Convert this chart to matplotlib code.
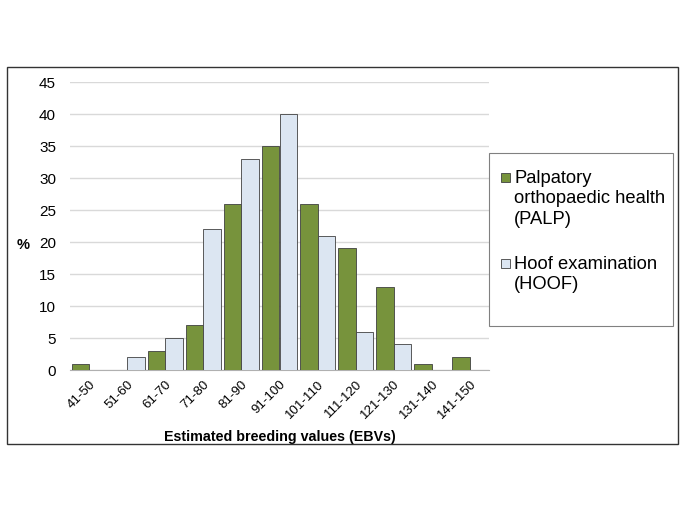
import matplotlib
matplotlib.use("Agg")
import matplotlib.pyplot as plt
import numpy as np
from matplotlib.patches import Rectangle

plt.rcParams['font.family'] = ['Liberation Sans', 'DejaVu Sans']

categories = ["41-50", "51-60", "61-70", "71-80", "81-90", "91-100",
              "101-110", "111-120", "121-130", "131-140", "141-150"]
palp = [1, 0, 3, 7, 26, 35, 26, 19, 13, 1, 2]
hoof = [0, 2, 5, 22, 33, 40, 21, 6, 4, 0, 0]
series_labels = ['Palpatory\northopaedic health\n(PALP)', 'Hoof examination\n(HOOF)']
series_colors = ['#77933C', '#DCE6F2']

W, H = 685, 513
fig = plt.figure(figsize=(W / 100, H / 100), dpi=100)

def fx(px):
    return px / W

def fy(py):
    return 1 - py / H

# outer frame
fig.patches.append(Rectangle((fx(7), fy(444)), (678 - 7) / W, (444 - 67) / H,
                             transform=fig.transFigure, fill=False,
                             edgecolor='#333333', linewidth=1.0))

ax = fig.add_axes([fx(70), fy(370), (489 - 70) / W, (370 - 82) / H])
x = np.arange(len(categories))
bw = 0.46
ax.bar(x - bw / 2, palp, width=bw, color=series_colors[0], edgecolor='#404040',
       linewidth=0.6, zorder=3)
ax.bar(x + bw / 2, hoof, width=bw, color=series_colors[1], edgecolor='#404040',
       linewidth=0.6, zorder=3)

ax.set_xlim(-0.5, len(categories) - 0.5)
ax.set_ylim(0, 45)
ax.set_yticks(range(0, 46, 5))
ax.yaxis.grid(True, color='#d9d9d9', linewidth=1.0, zorder=0)
ax.set_axisbelow(True)
for s in ['left', 'right', 'top']:
    ax.spines[s].set_visible(False)
ax.spines['bottom'].set_color('#b0b0b0')
ax.tick_params(axis='both', length=0, colors='#000000')
ax.tick_params(axis='y', pad=10, labelsize=11)
ax.set_xticks(x)
ax.set_xticklabels(categories, rotation=45, ha='right', rotation_mode='anchor')
ax.tick_params(axis='x', pad=6, labelsize=9.5)
ax.set_ylabel('%', rotation=0, fontsize=10.5, fontweight='bold', va='center', ha='center')
ax.yaxis.set_label_coords(-0.112, 0.434)
ax.set_xlabel('Estimated breeding values (EBVs)', fontsize=10.3, fontweight='bold', va='center')
ax.xaxis.set_label_coords(0.5, (370 - 437.5) / (370 - 82))

# legend (drawn manually so that the markers align with the first text line)
fig.patches.append(Rectangle((fx(489), fy(326)), (673 - 489) / W, (326 - 153) / H,
                             transform=fig.transFigure, facecolor='white',
                             edgecolor='#808080', linewidth=0.8))
first_line_y = [177, 263]
for lab, col, yy in zip(series_labels, series_colors, first_line_y):
    fig.patches.append(Rectangle((fx(501), fy(yy + 4.5)), 9 / W, 9 / H,
                                 transform=fig.transFigure, facecolor=col,
                                 edgecolor='#404040', linewidth=0.6))
    fig.text(fx(514), fy(yy - 7), lab, fontsize=13.2, va='top', ha='left',
             linespacing=1.25)

fig.savefig('out.png', dpi=100)
